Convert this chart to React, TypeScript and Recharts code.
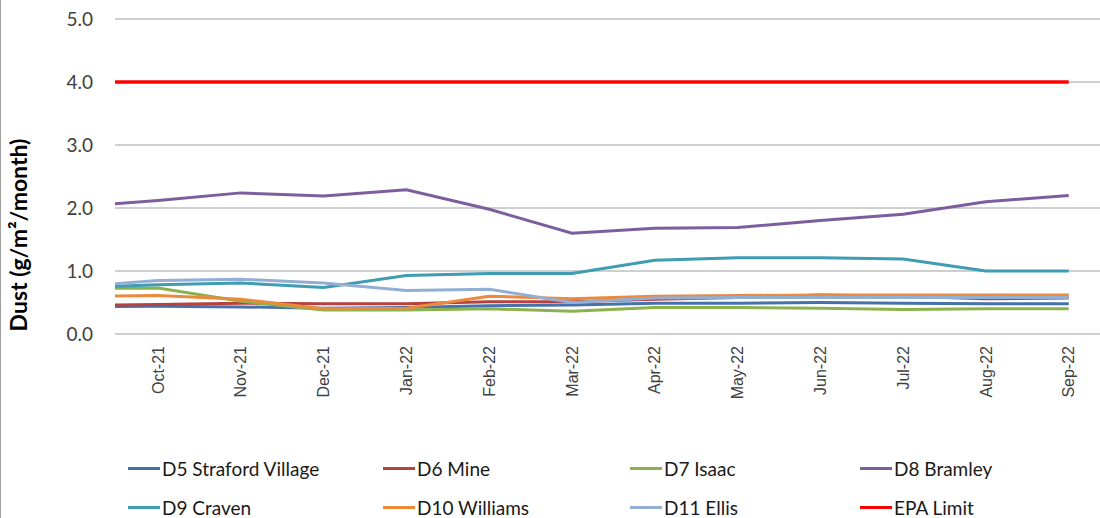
import React from 'react';
import { LineChart, Line, XAxis, YAxis, CartesianGrid } from 'recharts';

// First entry (Sep-21) lies just left of the visible axis range and is clipped.
const categories = ['Sep-21', 'Oct-21', 'Nov-21', 'Dec-21', 'Jan-22', 'Feb-22', 'Mar-22', 'Apr-22', 'May-22', 'Jun-22', 'Jul-22', 'Aug-22', 'Sep-22'];
const d5Straford = [0.43, 0.44, 0.43, 0.41, 0.42, 0.45, 0.46, 0.49, 0.49, 0.50, 0.49, 0.48, 0.48];
const d6Mine = [0.45, 0.47, 0.49, 0.48, 0.48, 0.51, 0.51, 0.55, 0.58, 0.62, 0.60, 0.56, 0.57];
const d7Isaac = [0.72, 0.73, 0.52, 0.38, 0.38, 0.40, 0.36, 0.42, 0.42, 0.41, 0.39, 0.40, 0.40];
const d8Bramley = [2.02, 2.12, 2.24, 2.19, 2.29, 1.98, 1.60, 1.68, 1.69, 1.80, 1.90, 2.10, 2.20];
const d9Craven = [0.74, 0.78, 0.81, 0.74, 0.93, 0.96, 0.96, 1.17, 1.21, 1.21, 1.19, 1.00, 1.00];
const d10Williams = [0.60, 0.61, 0.55, 0.40, 0.41, 0.60, 0.56, 0.60, 0.61, 0.62, 0.62, 0.62, 0.62];
const d11Ellis = [0.75, 0.85, 0.87, 0.81, 0.69, 0.71, 0.50, 0.57, 0.58, 0.58, 0.58, 0.58, 0.58];
const epaLimit = [4, 4, 4, 4, 4, 4, 4, 4, 4, 4, 4, 4, 4];
const yTicks = [0, 1, 2, 3, 4, 5];

const seriesDefs = [
  { key: 'd5', name: 'D5 Straford Village', values: d5Straford, color: '#4672AC' },
  { key: 'd6', name: 'D6 Mine', values: d6Mine, color: '#B5423F' },
  { key: 'd7', name: 'D7 Isaac', values: d7Isaac, color: '#8CB250' },
  { key: 'd8', name: 'D8 Bramley', values: d8Bramley, color: '#7C5E9E' },
  { key: 'd9', name: 'D9 Craven', values: d9Craven, color: '#3E9CB3' },
  { key: 'd10', name: 'D10 Williams', values: d10Williams, color: '#EC8A3C' },
  { key: 'd11', name: 'D11 Ellis', values: d11Ellis, color: '#93AED5' },
  { key: 'epa', name: 'EPA Limit', values: epaLimit, color: '#FF0000' },
];

const data = categories.map((c, i) => {
  const row: any = { x: i - 1, label: c };
  seriesDefs.forEach((s) => {
    row[s.key] = s.values[i];
  });
  return row;
});

const xTicks = categories.slice(1).map((_, i) => i);

const XTick = (props: any) => {
  const { x, payload } = props;
  const label = categories[payload.value + 1];
  return (
    <text
      x={0}
      y={0}
      dy="0.35em"
      textAnchor="end"
      transform={`translate(${x},346) rotate(-90)`}
      fontFamily="'Liberation Sans', Arial, sans-serif"
      fontSize={16}
      fill="#404040"
    >
      {label}
    </text>
  );
};

const YTick = (props: any) => {
  const { y, payload } = props;
  return (
    <text x={93} y={y} dy="0.35em" textAnchor="end" fontFamily="Lato, sans-serif" fontSize={19} fill="#404040">
      {Number(payload.value).toFixed(1)}
    </text>
  );
};

const legendCols = [128, 383, 630, 860];
const legendRows = [468, 507];

export default function App() {
  return (
    <div style={{ position: 'absolute', left: 0, top: 0, width: 1100, height: 518, background: '#fff', borderLeft: '1px solid #a0a0a0', boxSizing: 'border-box' }}>
      <div style={{ position: 'absolute', left: -1, top: 0 }}>
        <LineChart width={1101} height={518} data={data} margin={{ top: 19, right: 0, left: 0, bottom: 0 }}>
          <CartesianGrid vertical={false} stroke="#BFBFBF" strokeWidth={1.3} />
          <XAxis
            dataKey="x"
            type="number"
            domain={[-0.52, 11.39]}
            allowDataOverflow
            ticks={xTicks}
            interval={0}
            tick={<XTick />}
            tickLine={false}
            axisLine={false}
            height={184}
          />
          <YAxis
            type="number"
            domain={[0, 5]}
            ticks={yTicks}
            tick={<YTick />}
            tickLine={false}
            axisLine={false}
            width={115}
            label={{
              content: () => (
                <text
                  x={0}
                  y={0}
                  dy="0.35em"
                  textAnchor="middle"
                  transform="translate(19,235) rotate(-90)"
                  fontFamily="Lato, sans-serif"
                  fontWeight="bold"
                  fontSize={23}
                  fill="#000"
                >
                  Dust (g/m²/month)
                </text>
              ),
            }}
          />
          {seriesDefs.map((s) => (
            <Line
              key={s.key}
              dataKey={s.key}
              name={s.name}
              type="linear"
              stroke={s.color}
              strokeWidth={s.key === 'epa' ? 3.5 : 3}
              dot={false}
              activeDot={false}
              isAnimationActive={false}
            />
          ))}
        </LineChart>
      </div>
      {seriesDefs.map((s, i) => {
        const col = legendCols[i % 4];
        const row = legendRows[Math.floor(i / 4)];
        return (
          <div
            key={s.key}
            style={{ position: 'absolute', left: col - 1, top: row - 13, height: 26, display: 'flex', alignItems: 'center', fontFamily: 'Lato, sans-serif', fontSize: 19, color: '#1a1a1a', whiteSpace: 'nowrap' }}
          >
            <span style={{ display: 'inline-block', width: 32, height: 3, background: s.color, marginRight: 2 }} />
            <span>{s.name}</span>
          </div>
        );
      })}
    </div>
  );
}
